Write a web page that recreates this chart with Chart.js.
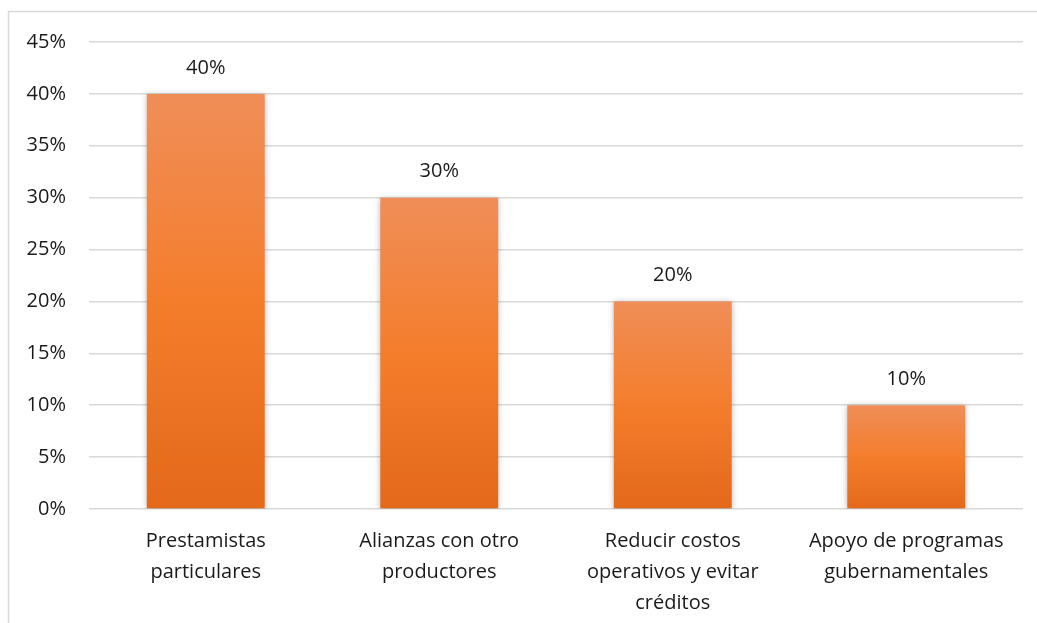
<!DOCTYPE html>
<html>
<head>
<meta charset="utf-8">
<script src="https://cdn.jsdelivr.net/npm/chart.js@4"></script>
<style>
  html, body { margin: 0; padding: 0; background: #fff; }
  #wrap { position: relative; width: 1037px; height: 623px; }
</style>
</head>
<body>
<div id="wrap"><canvas id="barChart"></canvas></div>
<script>
const categories = [
    ["Prestamistas", "particulares"],
    ["Alianzas con otro", "productores"],
    ["Reducir costos", "operativos y evitar", "créditos"],
    ["Apoyo de programas", "gubernamentales"],
];
const values = [0.40, 0.30, 0.20, 0.10];
const yTicks = [0, 0.05, 0.10, 0.15, 0.20, 0.25, 0.30, 0.35, 0.40, 0.45];

const FONT = "'Open Sans', sans-serif";

// light grey frame on the left and top, like the original picture
const framePlugin = {
    id: "frame",
    beforeDraw(chart) {
        const c = chart.ctx;
        c.save();
        c.strokeStyle = "#d9d9d9";
        c.lineWidth = 1.5;
        c.beginPath();
        c.moveTo(8.5, chart.height);
        c.lineTo(8.5, 11.5);
        c.lineTo(chart.width, 11.5);
        c.stroke();
        c.restore();
    },
};

// soft shadow behind the bars
const shadowPlugin = {
    id: "barShadow",
    beforeDatasetsDraw(chart) {
        const c = chart.ctx;
        c.save();
        c.shadowColor = "rgba(0,0,0,0.28)";
        c.shadowBlur = 6;
        c.shadowOffsetX = 0;
        c.shadowOffsetY = 1;
    },
    afterDatasetsDraw(chart) {
        chart.ctx.restore();
    },
};

// value labels above the bars
const labelPlugin = {
    id: "valueLabels",
    afterDatasetsDraw(chart) {
        const c = chart.ctx;
        const meta = chart.getDatasetMeta(0);
        c.save();
        c.font = "20px " + FONT;
        c.fillStyle = "#1a1a1a";
        c.textAlign = "center";
        c.textBaseline = "middle";
        meta.data.forEach((bar, i) => {
            c.fillText(Math.round(values[i] * 100) + "%", bar.x, bar.y - 26);
        });
        c.restore();
    },
};

function barGradient(context) {
    const area = context.chart.chartArea;
    if (!area) return "#f47d2c";
    const y0 = context.chart.scales.y.getPixelForValue(0);
    const y1 = context.chart.scales.y.getPixelForValue(values[context.dataIndex]);
    const g = context.chart.ctx.createLinearGradient(0, y1, 0, y0);
    g.addColorStop(0, "#f08e58");
    g.addColorStop(0.5, "#f47d2c");
    g.addColorStop(1, "#e4691a");
    return g;
}

const ctx = document.getElementById("barChart").getContext("2d");
const myChart = new Chart(ctx, {
    type: "bar",
    data: {
        labels: categories,
        datasets: [
            {
                data: values,
                backgroundColor: barGradient,
                borderWidth: 0,
                categoryPercentage: 1,
                barPercentage: 0.505,
            },
        ],
    },
    options: {
        responsive: true,
        maintainAspectRatio: false,
        animation: false,
        layout: { padding: { left: 0, right: 14, top: 42, bottom: 0 } },
        plugins: {
            legend: { display: false },
            tooltip: { enabled: false },
        },
        scales: {
            y: {
                min: 0,
                max: 0.45,
                afterBuildTicks(scale) {
                    scale.ticks = yTicks.map(v => ({ value: v }));
                },
                afterFit(scale) { scale.width = 89; },
                ticks: {
                    padding: 23,
                    color: "#1a1a1a",
                    font: { family: FONT, size: 20 },
                    callback: v => Math.round(v * 100) + "%",
                },
                grid: { color: "#d9d9d9", lineWidth: 1.5, drawTicks: false },
                border: { display: false },
            },
            x: {
                afterFit(scale) { scale.height = 114; },
                ticks: {
                    padding: 17,
                    color: "#1a1a1a",
                    maxRotation: 0,
                    font: { family: FONT, size: 20, lineHeight: 1.55 },
                },
                grid: { display: false, drawTicks: false },
                border: { display: false },
            },
        },
    },
    plugins: [framePlugin, shadowPlugin, labelPlugin],
});
</script>
</body>
</html>
